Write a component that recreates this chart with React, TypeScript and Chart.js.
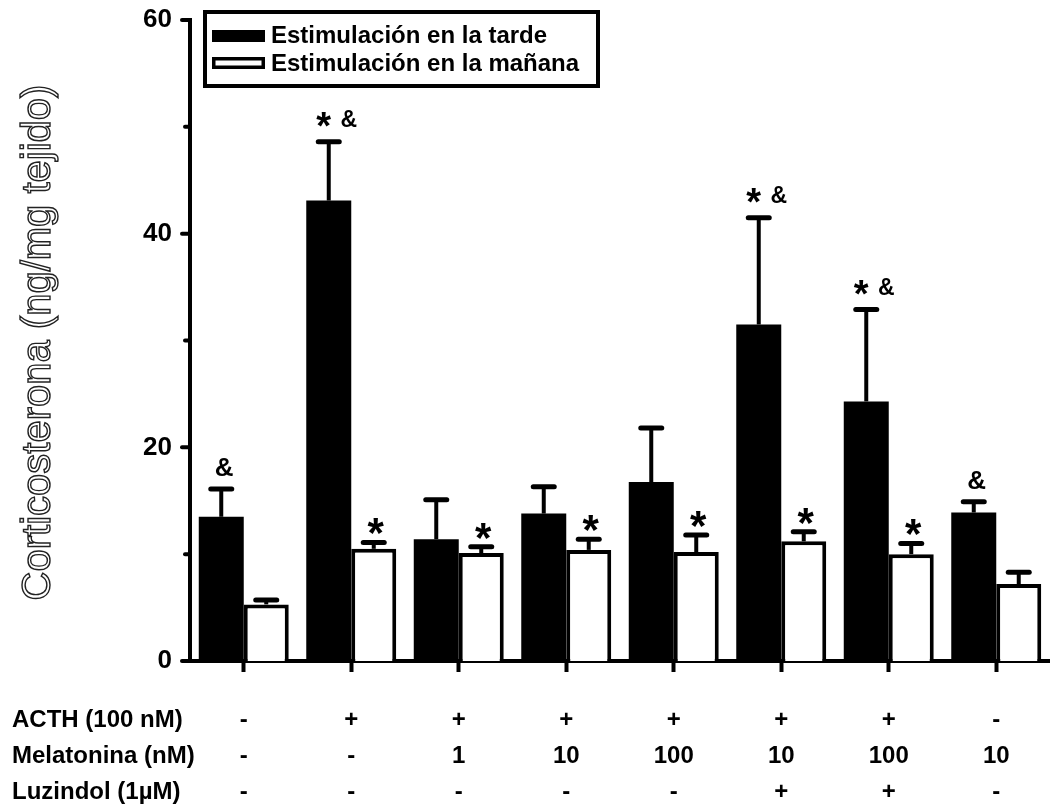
import React, { useEffect, useRef } from 'react';
import { Chart, registerables } from 'chart.js';

Chart.register(...registerables);

const FONT = '"Liberation Sans", Arial, Helvetica, sans-serif';

// ---- data ----
const rowLabels = ['ACTH (100 nM)', 'Melatonina (nM)', 'Luzindol (1\u00b5M)'];
const acthRow = ['-', '+', '+', '+', '+', '+', '+', '-'];
const melatoninaRow = ['-', '-', '1', '10', '100', '10', '100', '10'];
const luzindolRow = ['-', '-', '-', '-', '-', '+', '+', '-'];
const categories = acthRow.map((a, i) => `${a} / ${melatoninaRow[i]} / ${luzindolRow[i]}`);

const seriesNames = ['Estimulación en la tarde', 'Estimulación en la mañana'];
const tardeValues = [13.5, 43.1, 11.4, 13.8, 16.75, 31.5, 24.3, 13.9];
const tardeErrors = [2.6, 5.5, 3.7, 2.5, 5.05, 10.0, 8.6, 1.0];
const mananaValues = [5.3, 10.5, 10.1, 10.4, 10.2, 11.2, 10.0, 7.2];
const mananaErrors = [0.4, 0.6, 0.6, 1.0, 1.6, 0.9, 1.0, 1.1];
const tardeMarks = ['&', '* &', '', '', '', '* &', '* &', '&'];
const mananaMarks = ['', '*', '*', '*', '*', '*', '*', ''];

const yTitle = 'Corticosterona (ng/mg tejido)';
const yMin = 0;
const yMax = 60;
const yStep = 10;
const yLabelStep = 20;

function drawGlyph(ctx: CanvasRenderingContext2D, text: string, size: number, cx: number, bottom: number) {
  ctx.font = `bold ${size}px ${FONT}`;
  ctx.textAlign = 'center';
  ctx.textBaseline = 'alphabetic';
  const m = ctx.measureText(text);
  ctx.fillText(text, cx, bottom - m.actualBoundingBoxDescent);
}

const customPlugin = {
  id: 'customDraw',
  afterDatasetsDraw(chart: any) {
    const ctx: CanvasRenderingContext2D = chart.ctx;
    const y = chart.scales.y;
    const errs = [tardeErrors, mananaErrors];
    const marks = [tardeMarks, mananaMarks];
    chart.data.datasets.forEach((ds: any, di: number) => {
      const meta = chart.getDatasetMeta(di);
      meta.data.forEach((bar: any, i: number) => {
        const v = ds.data[i];
        const top = y.getPixelForValue(v + errs[di][i]);
        ctx.save();
        ctx.strokeStyle = '#000';
        ctx.lineWidth = 4;
        ctx.lineCap = 'butt';
        ctx.beginPath();
        ctx.moveTo(bar.x, bar.y);
        ctx.lineTo(bar.x, top);
        ctx.stroke();
        ctx.lineWidth = 5;
        ctx.lineCap = 'round';
        ctx.beginPath();
        ctx.moveTo(bar.x - 10.5, top);
        ctx.lineTo(bar.x + 10.5, top);
        ctx.stroke();
        // significance marks
        ctx.fillStyle = '#000';
        const mk = marks[di][i];
        if (mk === '&') {
          drawGlyph(ctx, '&', 26, bar.x + 3, top - 13);
        } else if (mk === '*') {
          drawGlyph(ctx, '*', 42, bar.x + 2, top - 8);
        } else if (mk === '* &') {
          drawGlyph(ctx, '*', 38, bar.x - 5, top - 15);
          drawGlyph(ctx, '&', 23, bar.x + 20, top - 15);
        }
        ctx.restore();
      });
    });
  },
  afterDraw(chart: any) {
    const ctx: CanvasRenderingContext2D = chart.ctx;
    const y = chart.scales.y;
    const x = chart.scales.x;
    const area = chart.chartArea;
    ctx.save();
    // y ticks (major / minor)
    ctx.strokeStyle = '#000';
    ctx.lineCap = 'round';
    ctx.lineWidth = 4;
    y.ticks.forEach((t: any) => {
      const py = y.getPixelForValue(t.value);
      const len = t.value % yLabelStep === 0 ? 8 : 5;
      ctx.beginPath();
      ctx.moveTo(area.left - len, py);
      ctx.lineTo(area.left, py);
      ctx.stroke();
    });
    // y title (outlined)
    ctx.save();
    ctx.translate(39, (area.top + area.bottom) / 2 + 2);
    ctx.rotate(-Math.PI / 2);
    ctx.font = `40px ${FONT}`;
    ctx.textAlign = 'center';
    ctx.textBaseline = 'middle';
    ctx.fillStyle = '#fff';
    ctx.fillText(yTitle, 0, 0);
    ctx.strokeStyle = '#222';
    ctx.lineWidth = 1.4;
    ctx.strokeText(yTitle, 0, 0);
    ctx.restore();
    // condition table
    const rows = [acthRow, melatoninaRow, luzindolRow];
    const baselines = [area.bottom + 66, area.bottom + 102, area.bottom + 138];
    ctx.fillStyle = '#000';
    ctx.font = `bold 24px ${FONT}`;
    ctx.textBaseline = 'alphabetic';
    rows.forEach((row, r) => {
      ctx.textAlign = 'left';
      ctx.fillText(rowLabels[r], 12, baselines[r]);
      ctx.textAlign = 'center';
      row.forEach((val, i) => {
        ctx.fillText(val, x.getPixelForValue(i), baselines[r]);
      });
    });
    // legend
    const lx = 205, ly = 12, lw = 393, lh = 74;
    ctx.lineWidth = 4;
    ctx.lineCap = 'butt';
    ctx.strokeStyle = '#000';
    ctx.fillStyle = '#fff';
    ctx.fillRect(lx, ly, lw, lh);
    ctx.strokeRect(lx, ly, lw, lh);
    chart.data.datasets.forEach((ds: any, di: number) => {
      const sy = di === 0 ? 30 : 57;
      if (di === 0) {
        ctx.fillStyle = '#000';
        ctx.fillRect(212, sy, 53, 12);
      } else {
        ctx.fillStyle = '#fff';
        ctx.fillRect(212, sy, 53, 12);
        ctx.lineWidth = 3.5;
        ctx.strokeRect(213.75, sy + 1.75, 49.5, 8.5);
      }
      ctx.fillStyle = '#000';
      ctx.font = `bold 24px ${FONT}`;
      ctx.textAlign = 'left';
      ctx.textBaseline = 'alphabetic';
      ctx.fillText(ds.label, 271, di === 0 ? 43 : 71);
    });
    ctx.restore();
  },
};

export default function App() {
  const canvasRef = useRef<HTMLCanvasElement | null>(null);

  useEffect(() => {
    if (!canvasRef.current) return;
    const chart = new Chart(canvasRef.current, {
      type: 'bar',
      data: {
        labels: categories,
        datasets: [
          {
            label: seriesNames[0],
            data: tardeValues,
            backgroundColor: '#000',
            borderWidth: 0,
            categoryPercentage: 0.837,
            barPercentage: 1,
          },
          {
            label: seriesNames[1],
            data: mananaValues,
            backgroundColor: '#fff',
            borderColor: '#000',
            borderWidth: 4,
            categoryPercentage: 0.837,
            barPercentage: 1,
          },
        ],
      },
      options: {
        animation: false,
        responsive: false,
        maintainAspectRatio: false,
        layout: { padding: { top: 20, left: 0, right: 0, bottom: 0 } },
        plugins: {
          legend: { display: false },
          tooltip: { enabled: false },
          title: { display: false },
        },
        scales: {
          x: {
            type: 'category',
            offset: true,
            z: 1,
            grid: {
              display: true,
              drawOnChartArea: false,
              offset: false,
              tickLength: 11,
              tickWidth: 4,
              tickColor: '#000',
            },
            border: { display: true, width: 4, color: '#000' },
            ticks: { display: false },
            afterFit: (s: any) => {
              s.height = 145;
              s.paddingLeft = 0;
              s.paddingRight = 0;
            },
          },
          y: {
            min: yMin,
            max: yMax,
            z: 1,
            grid: { display: false, drawTicks: false },
            border: { display: true, width: 4, color: '#000' },
            ticks: {
              stepSize: yStep,
              padding: 18,
              color: '#000',
              font: { family: FONT, size: 26, weight: 'bold' },
              callback: (v: any) => (Number(v) % yLabelStep === 0 ? String(v) : ''),
            },
            afterFit: (s: any) => {
              s.width = 190;
              s.paddingTop = 0;
              s.paddingBottom = 0;
            },
          },
        },
      },
      plugins: [customPlugin],
    } as any);
    return () => chart.destroy();
  }, []);

  return (
    <div style={{ position: 'absolute', left: 0, top: 0, width: 1050, height: 806, background: '#fff' }}>
      <canvas ref={canvasRef} width={1050} height={806} />
    </div>
  );
}
